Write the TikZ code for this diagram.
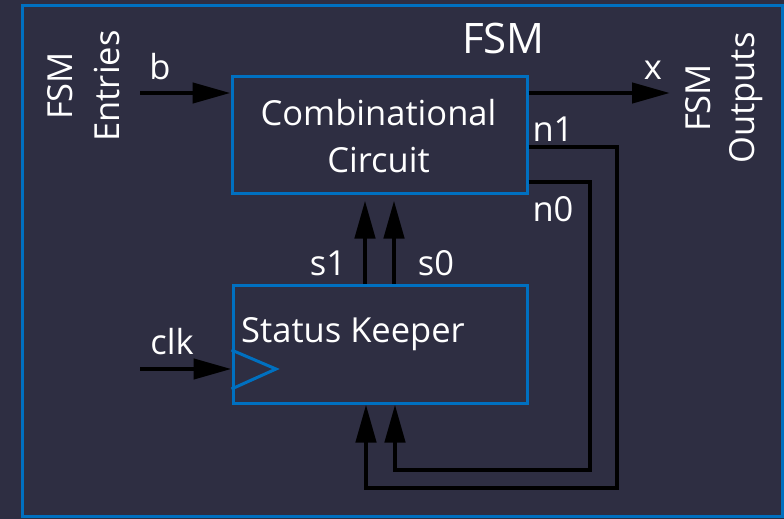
\documentclass[tikz,border=0pt]{standalone}
\usepackage{fontspec}
\setmainfont{Open Sans}
\usetikzlibrary{arrows.meta}
\definecolor{bgc}{RGB}{46,46,66}
\definecolor{fsmblue}{RGB}{0,112,192}
\begin{document}
\begin{tikzpicture}[x=1pt,y=1pt,
  txt/.style={text=white,font=\fontsize{34.5}{47}\selectfont,inner sep=0pt},
  titletxt/.style={text=white,font=\fontsize{42}{50}\selectfont,inner sep=0pt},
  blockbox/.style={draw=fsmblue,line width=3pt,inner sep=0pt},
  wire/.style={draw=black,line width=4.5pt,line join=miter},
  tipped/.style={-{Triangle[length=38pt,width=20pt]}},
  arr/.style={wire,tipped}]
\fill[bgc] (0,0) rectangle (784,-519);
\useasboundingbox (0,0) rectangle (784,-519);
\draw[fsmblue,line width=3.5pt] (22.5,-5.5) rectangle (782.5,-516.5);
% blocks
\node[blockbox,minimum width=295pt,minimum height=117pt] (comb) at (379.5,-134.5) {};
\node[txt,align=center,anchor=base] (combtxt) at (378.5,-172) {Combinational\\Circuit};
\node[blockbox,minimum width=294pt,minimum height=118pt] (sk) at (380,-344) {};
\node[txt,anchor=base west] (sktxt) at (241,-342) {Status Keeper};
\draw[fsmblue,line width=3pt] (sk.west |- 0,-350) -- (276,-369) -- (sk.west |- 0,-389);
% coordinates
\coordinate (bin) at (140,-93);
\coordinate (xout) at (670,-93);
\coordinate (clkin) at (140,-369);
\coordinate (s1x) at (365,0);
\coordinate (s0x) at (394,0);
\coordinate (n1a) at (617,-147);
\coordinate (n1b) at (617,-488);
\coordinate (n1c) at (366,-488);
\coordinate (n0a) at (590,-182);
\coordinate (n0b) at (590,-470);
\coordinate (n0c) at (395,-470);
% connectors
\draw[arr] (bin) -- (bin -| comb.west);
\draw[arr] (comb.east |- xout) -- (xout);
\draw[arr] (clkin) -- (clkin -| sk.west);
\draw[arr,shorten >=6pt] (sk.north -| s1x) -- (comb.south -| s1x);
\draw[arr,shorten >=6pt] (sk.north -| s0x) -- (comb.south -| s0x);
\draw[arr] (comb.east |- n1a) -- (n1a) -- (n1b) -- (n1c) -- (n1c |- sk.south);
\draw[arr] (comb.east |- n0a) -- (n0a) -- (n0b) -- (n0c) -- (n0c |- sk.south);
% labels
\node[titletxt,anchor=base] (fsm) at (503.5,-53) {FSM};
\node[txt,anchor=base] (lb) at (160,-79) {b};
\node[txt,anchor=base] (lx) at (653,-79) {x};
\node[txt,anchor=base] (lclk) at (172,-354) {clk};
\node[txt,anchor=base] (ls1) at (328,-275) {s1};
\node[txt,anchor=base] (ls0) at (436,-275) {s0};
\node[txt,anchor=base] (ln1) at (553,-141) {n1};
\node[txt,anchor=base] (ln0) at (553,-221) {n0};
\node[txt,align=center,rotate=90] (fin) at (84,-86) {FSM\\Entries};
\node[txt,align=center,rotate=90,font=\fontsize{34.5}{44}\selectfont] (fout) at (724,-98) {FSM\\Outputs};
\end{tikzpicture}
\end{document}
